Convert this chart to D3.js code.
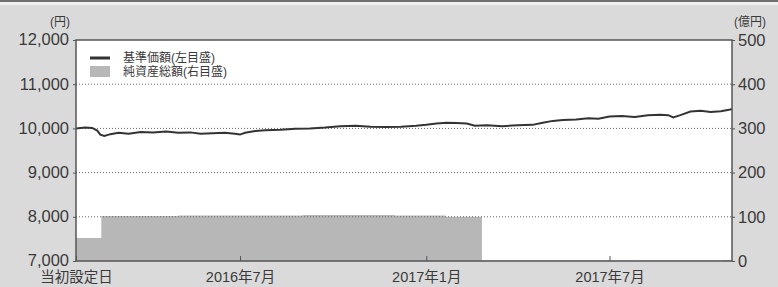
<!DOCTYPE html>
<html>
<head>
<meta charset="utf-8">
<script src="https://cdn.jsdelivr.net/npm/d3@7"></script>
<style>
  body { margin: 0; background: #dadada; }
  svg { display: block; }
  text { font-family: "Liberation Sans", "Noto Sans CJK JP", sans-serif; fill: #3a3a3a; }
</style>
</head>
<body>
<div class="chart"></div>
<script>
'use strict'
// 基準価額 (円)
const navDates = ['2016-01-21', '2016-01-30', '2016-02-06', '2016-02-11', '2016-02-14', '2016-02-18', '2016-02-24',
  '2016-03-03', '2016-03-13', '2016-03-25', '2016-04-06', '2016-04-19', '2016-05-01', '2016-05-13', '2016-05-23',
  '2016-06-04', '2016-06-16', '2016-06-26', '2016-07-01', '2016-07-06', '2016-07-16', '2016-07-26', '2016-08-10',
  '2016-08-25', '2016-09-08', '2016-09-23', '2016-10-08', '2016-10-23', '2016-11-07', '2016-11-22', '2016-12-07',
  '2016-12-22', '2017-01-01', '2017-01-11', '2017-01-21', '2017-01-31', '2017-02-10', '2017-02-18', '2017-03-02',
  '2017-03-17', '2017-04-01', '2017-04-16', '2017-04-26', '2017-05-06', '2017-05-16', '2017-05-29', '2017-06-10',
  '2017-06-20', '2017-07-01', '2017-07-13', '2017-07-26', '2017-08-08', '2017-08-20', '2017-08-28', '2017-09-02',
  '2017-09-09', '2017-09-19', '2017-09-29', '2017-10-09', '2017-10-19', '2017-10-27', '2017-10-30']
const navValues = [10000, 10020, 10010, 9950, 9860, 9830, 9870,
  9900, 9880, 9920, 9910, 9930, 9900, 9910, 9880,
  9890, 9900, 9880, 9860, 9900, 9940, 9960, 9970,
  9990, 10000, 10020, 10050, 10060, 10040, 10030, 10040,
  10060, 10080, 10110, 10130, 10120, 10110, 10060, 10070,
  10050, 10070, 10080, 10130, 10170, 10190, 10200, 10230,
  10220, 10270, 10280, 10260, 10300, 10310, 10300, 10250,
  10300, 10380, 10400, 10370, 10390, 10420, 10440]

// 純資産総額 (億円)
const assetDates = ['2016-01-21', '2016-02-15', '2016-05-01', '2016-09-01', '2016-12-01', '2017-01-20', '2017-02-25', '2017-10-20', '2017-10-30']
const assetValues = [52, 102, 103, 104, 103, 100, 1, 2, 3]

const leftTicks = [7000, 8000, 9000, 10000, 11000, 12000]
const rightTicks = [0, 100, 200, 300, 400, 500]
const xTickDates = ['2016-01-21', '2016-07-01', '2017-01-01', '2017-07-01']
const xTickLabels = ['当初設定日', '2016年7月', '2017年1月', '2017年7月']
const legendLabels = ['基準価額(左目盛)', '純資産総額(右目盛)']

const parse = d3.timeParse('%Y-%m-%d')
const nav = navDates.map(function (d, i) { return { date: parse(d), value: navValues[i] } })
const assets = assetDates.map(function (d, i) { return { date: parse(d), value: assetValues[i] } })

const width = 778
const height = 287
const plotLeft = 76
const plotRight = 732
const plotTop = 40
const plotBottom = 261

const svg = d3.select('.chart').append('svg')
  .attr('width', width)
  .attr('height', height)

// top band
svg.append('rect').attr('x', 0).attr('y', 0).attr('width', width).attr('height', 2).attr('fill', '#6e6e6e')
svg.append('rect').attr('x', 0).attr('y', 2).attr('width', width).attr('height', 3).attr('fill', '#f0f0f0')

const x = d3.scaleTime()
  .domain([parse('2016-01-21'), parse('2017-10-30')])
  .range([plotLeft, plotRight])
const yL = d3.scaleLinear().domain([7000, 12000]).range([plotBottom, plotTop])
const yR = d3.scaleLinear().domain([0, 500]).range([plotBottom, plotTop])

svg.append('rect')
  .attr('x', plotLeft).attr('y', plotTop)
  .attr('width', plotRight - plotLeft).attr('height', plotBottom - plotTop)
  .attr('fill', '#fff')

// net assets area
svg.append('path')
  .datum(assets)
  .attr('fill', '#b7b7b7')
  .attr('d', d3.area()
    .curve(d3.curveStepAfter)
    .x(function (d) { return x(d.date) })
    .y0(yR(0))
    .y1(function (d) { return yR(d.value) }))

// dotted grid
svg.append('g').selectAll('line')
  .data(leftTicks.slice(1, -1))
  .enter().append('line')
  .attr('x1', plotLeft).attr('x2', plotRight)
  .attr('y1', function (d) { return yL(d) })
  .attr('y2', function (d) { return yL(d) })
  .attr('stroke', '#666')
  .attr('stroke-width', 1)
  .attr('stroke-dasharray', '1,2')

// nav line
svg.append('path')
  .datum(nav)
  .attr('fill', 'none')
  .attr('stroke', '#333')
  .attr('stroke-width', 2)
  .attr('d', d3.line()
    .x(function (d) { return x(d.date) })
    .y(function (d) { return yL(d.value) }))

// frame
svg.append('rect')
  .attr('x', plotLeft).attr('y', plotTop)
  .attr('width', plotRight - plotLeft).attr('height', plotBottom - plotTop)
  .attr('fill', 'none')
  .attr('stroke', '#555')
  .attr('stroke-width', 1.5)

// axes
const axisL = svg.append('g')
  .attr('transform', 'translate(' + plotLeft + ',0)')
  .call(d3.axisLeft(yL).tickValues(leftTicks).tickSize(3).tickPadding(4).tickFormat(d3.format(',')))
const axisR = svg.append('g')
  .attr('transform', 'translate(' + plotRight + ',0)')
  .call(d3.axisRight(yR).tickValues(rightTicks).tickSize(3).tickPadding(3))
const axisB = svg.append('g')
  .attr('transform', 'translate(0,' + plotBottom + ')')
  .call(d3.axisBottom(x).tickValues(xTickDates.map(parse)).tickSize(-5).tickPadding(11)
    .tickFormat(function (d, i) { return xTickLabels[i] }))

;[axisL, axisR, axisB].forEach(function (a) {
  a.select('.domain').remove()
  a.selectAll('line').attr('stroke', '#555')
  a.selectAll('text').attr('fill', '#3a3a3a').style('font-family', null).style('font-size', '16.5px')
})
axisB.selectAll('text').style('font-size', '14.5px')
axisL.selectAll('text').attr('dy', '0.3em')

// unit labels
svg.append('text').attr('x', 70).attr('y', 26)
  .attr('text-anchor', 'end').style('font-size', '12px').text('(円)')
svg.append('text').attr('x', 766).attr('y', 26)
  .attr('text-anchor', 'end').style('font-size', '12px').text('(億円)')

// legend
const legend = svg.append('g').attr('transform', 'translate(90,0)')
legend.append('line')
  .attr('x1', 0).attr('x2', 20).attr('y1', 58).attr('y2', 58)
  .attr('stroke', '#333').attr('stroke-width', 3)
legend.append('rect')
  .attr('x', 0).attr('y', 66).attr('width', 20).attr('height', 11)
  .attr('fill', '#b7b7b7')
legend.selectAll('text')
  .data(legendLabels)
  .enter().append('text')
  .attr('x', 33)
  .attr('y', function (d, i) { return 58 + i * 14 })
  .attr('dy', '0.35em')
  .style('font-size', '12px')
  .text(function (d) { return d })
</script>
</body>
</html>
